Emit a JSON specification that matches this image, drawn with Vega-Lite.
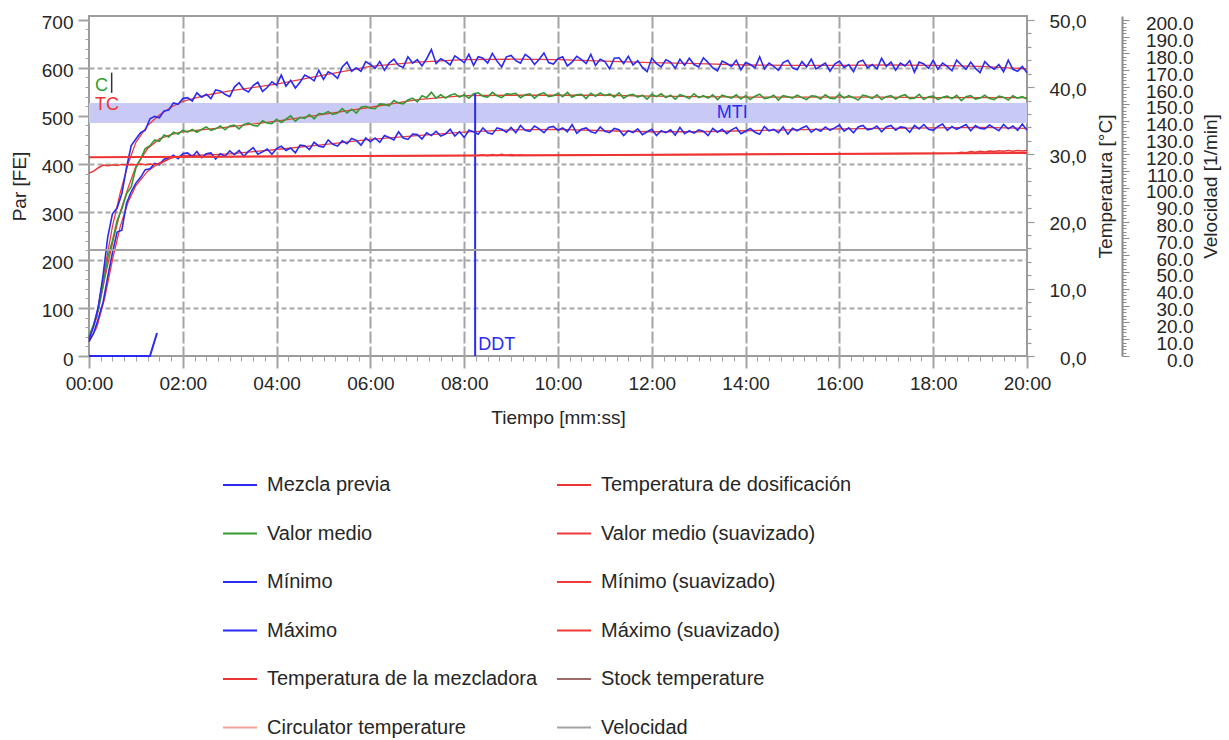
{
  "$schema": "https://vega.github.io/schema/vega-lite/v6.json",
  "width": 938,
  "height": 340,
  "autosize": {"type": "none"},
  "padding": {"left": 89, "top": 16, "right": 202, "bottom": 384},
  "background": "white",
  "config": {
    "font": "Liberation Sans",
    "view": {"stroke": "#9c9c9c", "strokeWidth": 2},
    "axis": {
      "domain": false,
      "labelFont": "Liberation Sans",
      "labelFontSize": 19,
      "labelColor": "#262626",
      "titleFont": "Liberation Sans",
      "titleFontSize": 19,
      "titleFontWeight": "normal",
      "titleColor": "#262626",
      "labelOverlap": false,
      "labelFlush": false,
      "labelBound": false
    },
    "text": {"font": "Liberation Sans"}
  },
  "datasets": {
    "par": [
      {"s":0,"max":35,"med":40,"min":30},{"s":6,"max":62,"med":66,"min":48},{"s":12,"max":104,"med":98,"min":78},
      {"s":18,"max":168,"med":148,"min":112},{"s":24,"max":248,"med":205,"min":165},{"s":30,"max":296,"med":240,"min":215},
      {"s":36,"max":308,"med":282,"min":258},{"s":42,"max":338,"med":306,"min":262},{"s":48,"max":392,"med":338,"min":318},
      {"s":54,"max":438,"med":352,"min":342},{"s":60,"max":452,"med":392,"min":360},{"s":66,"max":465,"med":410,"min":372},
      {"s":72,"max":470,"med":432,"min":388},{"s":78,"max":494,"med":438,"min":390},{"s":84,"max":499,"med":450,"min":401},
      {"s":90,"max":496,"med":447,"min":398},{"s":96,"max":510,"med":460,"min":410},{"s":102,"max":512,"med":456,"min":412},
      {"s":108,"max":527,"med":466,"min":418},{"s":114,"max":524,"med":462,"min":411},{"s":120,"max":536,"med":470,"min":421},
      {"s":126,"max":538,"med":466,"min":423},{"s":132,"max":531,"med":472,"min":415},{"s":138,"max":548,"med":466,"min":426},
      {"s":144,"max":539,"med":472,"min":413},{"s":150,"max":545,"med":477,"min":421},{"s":156,"max":536,"med":470,"min":423},
      {"s":162,"max":554,"med":473,"min":410},{"s":168,"max":552,"med":479,"min":421},{"s":174,"max":545,"med":471,"min":416},
      {"s":180,"max":540,"med":479,"min":427},{"s":186,"max":560,"med":481,"min":419},{"s":192,"max":569,"med":473,"min":428},
      {"s":198,"max":555,"med":482,"min":416},{"s":204,"max":550,"med":485,"min":426},{"s":210,"max":563,"med":480,"min":434},
      {"s":216,"max":570,"med":479,"min":420},{"s":222,"max":551,"med":490,"min":425},{"s":228,"max":559,"med":485,"min":431},
      {"s":234,"max":571,"med":484,"min":420},{"s":240,"max":564,"med":493,"min":432},{"s":246,"max":585,"med":486,"min":437},
      {"s":252,"max":562,"med":493,"min":428},{"s":258,"max":574,"med":500,"min":433},{"s":264,"max":558,"med":489,"min":423},
      {"s":270,"max":570,"med":497,"min":439},{"s":276,"max":585,"med":495,"min":438},{"s":282,"max":580,"med":503,"min":430},
      {"s":288,"max":573,"med":494,"min":445},{"s":294,"max":595,"med":505,"min":437},{"s":300,"max":576,"med":504,"min":435},
      {"s":306,"max":592,"med":509,"min":450},{"s":312,"max":587,"med":503,"min":441},{"s":318,"max":578,"med":506,"min":437},
      {"s":324,"max":602,"med":515,"min":448},{"s":330,"max":612,"med":506,"min":442},{"s":336,"max":593,"med":514,"min":453},
      {"s":342,"max":600,"med":506,"min":449},{"s":348,"max":593,"med":518,"min":439},{"s":354,"max":613,"med":520,"min":454},
      {"s":360,"max":607,"med":516,"min":446},{"s":366,"max":599,"med":515,"min":454},{"s":372,"max":613,"med":525,"min":445},
      {"s":378,"max":595,"med":524,"min":459},{"s":384,"max":610,"med":521,"min":455},{"s":390,"max":618,"med":532,"min":450},
      {"s":396,"max":605,"med":527,"min":467},{"s":402,"max":601,"med":525,"min":454},{"s":408,"max":623,"med":533,"min":451},
      {"s":414,"max":610,"med":537,"min":462},{"s":420,"max":617,"med":529,"min":461},{"s":426,"max":604,"med":542,"min":452},
      {"s":432,"max":619,"med":538,"min":465},{"s":438,"max":638,"med":549,"min":459},{"s":444,"max":609,"med":537,"min":468},
      {"s":450,"max":619,"med":544,"min":458},{"s":456,"max":614,"med":537,"min":462},{"s":462,"max":606,"med":543,"min":472},
      {"s":468,"max":625,"med":546,"min":458},{"s":474,"max":618,"med":539,"min":467},{"s":480,"max":611,"med":544,"min":455},
      {"s":486,"max":628,"med":537,"min":470},{"s":492,"max":605,"med":546,"min":467},{"s":498,"max":623,"med":548,"min":462},
      {"s":504,"max":620,"med":541,"min":475},{"s":510,"max":610,"med":539,"min":465},{"s":516,"max":630,"med":549,"min":462},
      {"s":522,"max":614,"med":542,"min":475},{"s":528,"max":602,"med":538,"min":472},{"s":534,"max":623,"med":546,"min":466},
      {"s":540,"max":626,"med":545,"min":476},{"s":546,"max":615,"med":547,"min":465},{"s":552,"max":610,"med":538,"min":480},
      {"s":558,"max":628,"med":544,"min":470},{"s":564,"max":621,"med":546,"min":468},{"s":570,"max":607,"med":537,"min":479},
      {"s":576,"max":618,"med":545,"min":473},{"s":582,"max":631,"med":548,"min":465},{"s":588,"max":611,"med":540,"min":476},
      {"s":594,"max":608,"med":542,"min":478},{"s":600,"max":619,"med":547,"min":470},{"s":606,"max":623,"med":540,"min":475},
      {"s":612,"max":604,"med":549,"min":467},{"s":618,"max":612,"med":539,"min":482},{"s":624,"max":624,"med":544,"min":464},
      {"s":630,"max":617,"med":545,"min":472},{"s":636,"max":609,"med":536,"min":475},{"s":642,"max":628,"med":547,"min":467},
      {"s":648,"max":605,"med":541,"min":464},{"s":654,"max":618,"med":548,"min":477},{"s":660,"max":613,"med":542,"min":468},
      {"s":666,"max":598,"med":546,"min":465},{"s":672,"max":620,"med":539,"min":474},{"s":678,"max":621,"med":548,"min":471},
      {"s":684,"max":609,"med":537,"min":459},{"s":690,"max":624,"med":543,"min":469},{"s":696,"max":606,"med":545,"min":465},
      {"s":702,"max":615,"med":539,"min":473},{"s":708,"max":601,"med":543,"min":461},{"s":714,"max":592,"med":535,"min":467},
      {"s":720,"max":620,"med":545,"min":472},{"s":726,"max":609,"med":540,"min":459},{"s":732,"max":602,"med":546,"min":469},
      {"s":738,"max":617,"med":538,"min":465},{"s":744,"max":612,"med":543,"min":471},{"s":750,"max":599,"med":535,"min":460},
      {"s":756,"max":618,"med":544,"min":476},{"s":762,"max":605,"med":541,"min":463},{"s":768,"max":620,"med":536,"min":469},
      {"s":774,"max":607,"med":546,"min":464},{"s":780,"max":602,"med":538,"min":471},{"s":786,"max":621,"med":542,"min":468},
      {"s":792,"max":611,"med":537,"min":459},{"s":798,"max":600,"med":544,"min":474},{"s":804,"max":594,"med":534,"min":466},
      {"s":810,"max":614,"med":543,"min":472},{"s":816,"max":609,"med":540,"min":463},{"s":822,"max":603,"med":537,"min":471},
      {"s":828,"max":616,"med":544,"min":476},{"s":834,"max":596,"med":535,"min":463},{"s":840,"max":611,"med":542,"min":468},
      {"s":846,"max":607,"med":534,"min":474},{"s":852,"max":600,"med":541,"min":466},{"s":858,"max":623,"med":545,"min":462},
      {"s":864,"max":598,"med":536,"min":478},{"s":870,"max":610,"med":538,"min":469},{"s":876,"max":603,"med":543,"min":472},
      {"s":882,"max":595,"med":533,"min":465},{"s":888,"max":611,"med":542,"min":477},{"s":894,"max":616,"med":540,"min":462},
      {"s":900,"max":600,"med":537,"min":474},{"s":906,"max":596,"med":543,"min":469},{"s":912,"max":613,"med":538,"min":475},
      {"s":918,"max":602,"med":534,"min":479},{"s":924,"max":618,"med":542,"min":466},{"s":930,"max":598,"med":541,"min":473},
      {"s":936,"max":604,"med":535,"min":468},{"s":942,"max":610,"med":544,"min":477},{"s":948,"max":593,"med":537,"min":470},
      {"s":954,"max":608,"med":536,"min":475},{"s":960,"max":614,"med":545,"min":481},{"s":966,"max":601,"med":537,"min":468},
      {"s":972,"max":607,"med":542,"min":475},{"s":978,"max":592,"med":538,"min":465},{"s":984,"max":612,"med":533,"min":477},
      {"s":990,"max":616,"med":543,"min":480},{"s":996,"max":600,"med":541,"min":471},{"s":1002,"max":607,"med":536,"min":473},
      {"s":1008,"max":598,"med":544,"min":479},{"s":1014,"max":620,"med":534,"min":467},{"s":1020,"max":603,"med":540,"min":477},
      {"s":1026,"max":612,"med":542,"min":480},{"s":1032,"max":595,"med":535,"min":470},{"s":1038,"max":610,"med":541,"min":477},
      {"s":1044,"max":604,"med":544,"min":476},{"s":1050,"max":615,"med":536,"min":466},{"s":1056,"max":591,"med":537,"min":480},
      {"s":1062,"max":612,"med":545,"min":473},{"s":1068,"max":608,"med":534,"min":482},{"s":1074,"max":599,"med":540,"min":472},
      {"s":1080,"max":616,"med":541,"min":470},{"s":1086,"max":597,"med":534,"min":478},{"s":1092,"max":610,"med":539,"min":483},
      {"s":1098,"max":603,"med":541,"min":470},{"s":1104,"max":594,"med":536,"min":478},{"s":1110,"max":616,"med":543,"min":472},
      {"s":1116,"max":606,"med":532,"min":477},{"s":1122,"max":597,"med":540,"min":482},{"s":1128,"max":612,"med":542,"min":469},
      {"s":1134,"max":599,"med":535,"min":480},{"s":1140,"max":590,"med":537,"min":474},{"s":1146,"max":613,"med":543,"min":473},
      {"s":1152,"max":603,"med":536,"min":481},{"s":1158,"max":597,"med":534,"min":475},{"s":1164,"max":607,"med":541,"min":469},
      {"s":1170,"max":592,"med":539,"min":482},{"s":1176,"max":616,"med":533,"min":473},{"s":1182,"max":597,"med":542,"min":479},
      {"s":1188,"max":593,"med":537,"min":470},{"s":1194,"max":603,"med":540,"min":483},{"s":1200,"max":590,"med":535,"min":470}
    ],
    "suave": [
      {"s":0,"max":35,"med":40,"min":30},{"s":10,"max":85,"med":80,"min":60},{"s":20,"max":180,"med":160,"min":120},
      {"s":30,"max":270,"med":235,"min":200},{"s":40,"max":340,"med":300,"min":270},{"s":50,"max":400,"med":350,"min":320},
      {"s":60,"max":445,"med":395,"min":355},{"s":75,"max":480,"med":432,"min":385},{"s":90,"max":502,"med":452,"min":402},
      {"s":105,"max":518,"med":461,"min":412},{"s":120,"max":530,"med":467,"min":417},{"s":150,"max":543,"med":472,"min":419},
      {"s":180,"max":552,"med":477,"min":421},{"s":240,"max":566,"med":489,"min":430},{"s":300,"max":585,"med":503,"min":440},
      {"s":360,"max":603,"med":518,"min":451},{"s":420,"max":612,"med":534,"min":459},{"s":480,"max":617,"med":542,"min":466},
      {"s":540,"max":618,"med":543,"min":471},{"s":600,"max":617,"med":543,"min":472},{"s":660,"max":614,"med":543,"min":469},
      {"s":720,"max":611,"med":541,"min":467},{"s":780,"max":609,"med":540,"min":467},{"s":840,"max":606,"med":539,"min":469},
      {"s":900,"max":605,"med":539,"min":471},{"s":960,"max":605,"med":539,"min":473},{"s":1020,"max":606,"med":539,"min":474},
      {"s":1080,"max":605,"med":538,"min":475},{"s":1140,"max":603,"med":538,"min":476},{"s":1200,"max":598,"med":538,"min":474}
    ],
    "mezcla": [
      {"s":0,"v":0},{"s":78,"v":0},{"s":87,"v":48}
    ],
    "dosif": [
      {"s":0,"t":29.55},{"s":1200,"t":30.2}
    ],
    "mezcladora": [
      {"s":0,"t":27.2},{"s":6,"t":27.5},{"s":12,"t":28.0},{"s":18,"t":28.4},{"s":24,"t":28.3},{"s":30,"t":28.45},
      {"s":36,"t":28.35},{"s":42,"t":28.5},{"s":48,"t":28.4},{"s":54,"t":28.5},{"s":60,"t":28.45},{"s":66,"t":28.55},
      {"s":72,"t":28.45},{"s":78,"t":28.55},{"s":84,"t":28.5},{"s":90,"t":28.6},{"s":96,"t":28.9},{"s":102,"t":29.3},
      {"s":108,"t":29.61},{"s":300,"t":29.71},{"s":498,"t":29.82},{"s":504,"t":29.95},{"s":510,"t":29.8},{"s":516,"t":29.98},
      {"s":522,"t":29.84},{"s":528,"t":30.0},{"s":534,"t":29.83},{"s":540,"t":29.97},{"s":546,"t":29.86},{"s":552,"t":29.95},
      {"s":558,"t":29.85},{"s":1110,"t":30.15},{"s":1116,"t":30.3},{"s":1122,"t":30.24},{"s":1128,"t":30.4},{"s":1134,"t":30.3},
      {"s":1140,"t":30.45},{"s":1146,"t":30.35},{"s":1152,"t":30.5},{"s":1158,"t":30.4},{"s":1164,"t":30.52},{"s":1170,"t":30.45},
      {"s":1176,"t":30.56},{"s":1182,"t":30.46},{"s":1188,"t":30.56},{"s":1194,"t":30.5},{"s":1200,"t":30.55}
    ],
    "velocidad": [
      {"s":0,"v":63},{"s":1200,"v":63}
    ]
  },
  "layer": [
    {
      "layer": [
        {
          "data": {"values": [{"s0":0,"s1":1200,"lo":485,"hi":527}]},
          "mark": {"type": "rect", "fill": "#c9c9f5"},
          "encoding": {
            "x": {
              "field": "s0", "type": "quantitative",
              "scale": {"domain": [0, 1200], "nice": false, "zero": false},
              "axis": {
                "values": [0,15,30,45,60,75,90,105,120,135,150,165,180,195,210,225,240,255,270,285,300,315,330,345,360,375,390,405,420,435,450,465,480,495,510,525,540,555,570,585,600,615,630,645,660,675,690,705,720,735,750,765,780,795,810,825,840,855,870,885,900,915,930,945,960,975,990,1005,1020,1035,1050,1065,1080,1095,1110,1125,1140,1155,1170,1185,1200],
                "tickCount": 500,
                "labelExpr": "datum.value % 120 === 0 ? ((datum.value < 600 ? '0' : '') + (datum.value / 60) + ':00') : ''",
                "labelOverlap": false,
                "tickSize": {"condition": {"test": "datum.value % 120 === 0", "value": 12}, "value": 5},
                "tickWidth": {"condition": {"test": "datum.value % 120 === 0", "value": 2}, "value": 1},
                "tickColor": "#a4a4a4",
                "grid": true,
                "gridColor": "#a4a4a4",
                "gridWidth": 2,
                "gridDash": [12, 3],
                "gridOpacity": {"condition": {"test": "datum.value % 120 === 0 && datum.value > 0 && datum.value < 1200", "value": 1}, "value": 0},
                "labelPadding": 6,
                "title": "Tiempo [mm:ss]",
                "titlePadding": 15
              }
            },
            "x2": {"field": "s1"},
            "y": {
              "field": "lo", "type": "quantitative",
              "scale": {"domain": [0, 708], "nice": false, "zero": true},
              "axis": {
                "values": [0,20,40,60,80,100,120,140,160,180,200,220,240,260,280,300,320,340,360,380,400,420,440,460,480,500,520,540,560,580,600,620,640,660,680,700],
                "tickCount": 500,
                "labelExpr": "datum.value % 100 === 0 ? '' + datum.value : ''",
                "labelOverlap": false,
                "tickSize": {"condition": {"test": "datum.value % 100 === 0", "value": 11}, "value": 4},
                "tickWidth": {"condition": {"test": "datum.value % 100 === 0", "value": 2}, "value": 1},
                "tickColor": "#a4a4a4",
                "grid": true,
                "gridColor": "#a8a8a8",
                "gridWidth": 2,
                "gridDash": [5, 3],
                "gridOpacity": {"condition": {"test": "datum.value % 100 === 0 && datum.value > 0 && datum.value < 700", "value": 1}, "value": 0},
                "labelPadding": 5,
                "labelOffset": 3,
                "title": "Par [FE]",
                "titlePadding": 12
              }
            },
            "y2": {"field": "hi"}
          }
        },
        {
          "mark": {"type": "rule", "color": "#33aa33", "strokeWidth": 2},
          "encoding": {"y": {"datum": 546, "type": "quantitative"}}
        },
        {
          "mark": {"type": "rule", "color": "#ee3333", "strokeWidth": 2},
          "encoding": {"y": {"datum": 500, "type": "quantitative"}}
        },
        {
          "data": {"name": "suave"},
          "mark": {"type": "line", "strokeWidth": 1.3},
          "encoding": {
            "x": {"field": "s", "type": "quantitative"},
            "y": {"field": "max", "type": "quantitative"},
            "color": {
              "datum": "Máximo (suavizado)",
              "scale": {
                "domain": ["Mezcla previa", "Valor medio", "Mínimo", "Máximo", "Temperatura de la mezcladora", "Circulator temperature", "Temperatura de dosificación", "Valor medio (suavizado)", "Mínimo (suavizado)", "Máximo (suavizado)", "Stock temperature", "Velocidad"],
                "range": ["#2b2bef", "#339933", "#2b2bef", "#2b2bef", "#ef3434", "#f2a39b", "#ef3434", "#ef3b3b", "#ef3b3b", "#ef3b3b", "#9e6a6a", "#a3a3a3"]
              },
              "legend": {
                "title": null,
                "orient": "none",
                "legendX": 133,
                "legendY": 451,
                "columns": 2,
                "columnPadding": 15,
                "rowPadding": 20.5,
                "symbolType": "stroke",
                "symbolSize": 1156,
                "symbolStrokeWidth": 2,
                "labelFont": "Liberation Sans",
                "labelFontSize": 20,
                "labelColor": "#262626",
                "labelOffset": 9,
                "labelLimit": 500
              }
            }
          }
        },
        {
          "data": {"name": "suave"},
          "mark": {"type": "line", "strokeWidth": 1.3},
          "encoding": {
            "x": {"field": "s", "type": "quantitative"},
            "y": {"field": "med", "type": "quantitative"},
            "color": {"datum": "Valor medio (suavizado)"}
          }
        },
        {
          "data": {"name": "suave"},
          "mark": {"type": "line", "strokeWidth": 1.3},
          "encoding": {
            "x": {"field": "s", "type": "quantitative"},
            "y": {"field": "min", "type": "quantitative"},
            "color": {"datum": "Mínimo (suavizado)"}
          }
        },
        {
          "data": {"name": "par"},
          "mark": {"type": "line", "strokeWidth": 1.6},
          "encoding": {
            "x": {"field": "s", "type": "quantitative"},
            "y": {"field": "med", "type": "quantitative"},
            "color": {"datum": "Valor medio"}
          }
        },
        {
          "data": {"name": "par"},
          "mark": {"type": "line", "strokeWidth": 1.6},
          "encoding": {
            "x": {"field": "s", "type": "quantitative"},
            "y": {"field": "min", "type": "quantitative"},
            "color": {"datum": "Mínimo"}
          }
        },
        {
          "data": {"name": "par"},
          "mark": {"type": "line", "strokeWidth": 1.6},
          "encoding": {
            "x": {"field": "s", "type": "quantitative"},
            "y": {"field": "max", "type": "quantitative"},
            "color": {"datum": "Máximo"}
          }
        },
        {
          "data": {"name": "mezcla"},
          "mark": {"type": "line", "strokeWidth": 2},
          "encoding": {
            "x": {"field": "s", "type": "quantitative"},
            "y": {"field": "v", "type": "quantitative"},
            "color": {"datum": "Mezcla previa"}
          }
        },
        {
          "data": {"values": [{"s":494,"lo":0,"hi":546}]},
          "mark": {"type": "rule", "color": "#2b2bef", "strokeWidth": 2},
          "encoding": {
            "x": {"field": "s", "type": "quantitative"},
            "y": {"field": "lo", "type": "quantitative"},
            "y2": {"field": "hi"}
          }
        },
        {
          "data": {"values": [{"s":29,"lo":548,"hi":590}]},
          "mark": {"type": "rule", "color": "#333333", "strokeWidth": 1.5},
          "encoding": {
            "x": {"field": "s", "type": "quantitative"},
            "y": {"field": "lo", "type": "quantitative"},
            "y2": {"field": "hi"}
          }
        },
        {
          "data": {"values": [{"s":0,"v":546,"txt":"C"}]},
          "mark": {"type": "text", "color": "#2f9f2f", "fontSize": 18, "align": "left", "baseline": "alphabetic", "dx": 6, "dy": -3},
          "encoding": {
            "x": {"field": "s", "type": "quantitative"},
            "y": {"field": "v", "type": "quantitative"},
            "text": {"field": "txt"}
          }
        },
        {
          "data": {"values": [{"s":0,"v":500,"txt":"TC"}]},
          "mark": {"type": "text", "color": "#ee3333", "fontSize": 18, "align": "left", "baseline": "alphabetic", "dx": 6, "dy": -6},
          "encoding": {
            "x": {"field": "s", "type": "quantitative"},
            "y": {"field": "v", "type": "quantitative"},
            "text": {"field": "txt"}
          }
        },
        {
          "data": {"values": [{"s":823,"v":500,"txt":"MTI"}]},
          "mark": {"type": "text", "color": "#2b2bef", "fontSize": 18, "align": "center", "baseline": "alphabetic", "dy": 2},
          "encoding": {
            "x": {"field": "s", "type": "quantitative"},
            "y": {"field": "v", "type": "quantitative"},
            "text": {"field": "txt"}
          }
        },
        {
          "data": {"values": [{"s":494,"v":0,"txt":"DDT"}]},
          "mark": {"type": "text", "color": "#2b2bef", "fontSize": 18, "align": "left", "baseline": "alphabetic", "dx": 3, "dy": -6},
          "encoding": {
            "x": {"field": "s", "type": "quantitative"},
            "y": {"field": "v", "type": "quantitative"},
            "text": {"field": "txt"}
          }
        }
      ]
    },
    {
      "layer": [
        {
          "data": {"name": "dosif"},
          "mark": {"type": "line", "strokeWidth": 2},
          "encoding": {
            "x": {"field": "s", "type": "quantitative"},
            "y": {
              "field": "t", "type": "quantitative",
              "scale": {"domain": [0, 50.571], "nice": false, "zero": true},
              "axis": {
                "orient": "right",
                "values": [0,2,4,6,8,10,12,14,16,18,20,22,24,26,28,30,32,34,36,38,40,42,44,46,48,50],
                "tickCount": 500,
                "labelExpr": "datum.value % 10 === 0 ? replace(format(datum.value, '.1f'), '.', ',') : ''",
                "labelOverlap": false,
                "tickSize": {"condition": {"test": "datum.value % 10 === 0", "value": 7}, "value": 4},
                "tickWidth": 1.2,
                "tickColor": "#9a9a9a",
                "grid": false,
                "labelAlign": "right",
                "labelPadding": 52,
                "labelOffset": 2,
                "title": "Temperatura [°C]",
                "titleAngle": 270,
                "titleBaseline": "top",
                "titlePadding": 10
              }
            },
            "color": {"datum": "Temperatura de dosificación"}
          }
        },
        {
          "data": {"name": "mezcladora"},
          "mark": {"type": "line", "strokeWidth": 1.5},
          "encoding": {
            "x": {"field": "s", "type": "quantitative"},
            "y": {"field": "t", "type": "quantitative"},
            "color": {"datum": "Temperatura de la mezcladora"}
          }
        }
      ]
    },
    {
      "layer": [
        {
          "data": {"name": "velocidad"},
          "mark": {"type": "line", "strokeWidth": 2},
          "encoding": {
            "x": {"field": "s", "type": "quantitative"},
            "y": {
              "field": "v", "type": "quantitative",
              "scale": {"domain": [0, 202.286], "nice": false, "zero": true},
              "axis": {
                "orient": "right",
                "offset": 95,
                "domain": true,
                "domainColor": "#8c8c8c",
                "domainWidth": 2,
                "values": [0,2,4,6,8,10,12,14,16,18,20,22,24,26,28,30,32,34,36,38,40,42,44,46,48,50,52,54,56,58,60,62,64,66,68,70,72,74,76,78,80,82,84,86,88,90,92,94,96,98,100,102,104,106,108,110,112,114,116,118,120,122,124,126,128,130,132,134,136,138,140,142,144,146,148,150,152,154,156,158,160,162,164,166,168,170,172,174,176,178,180,182,184,186,188,190,192,194,196,198,200],
                "tickCount": 500,
                "labelExpr": "datum.value % 10 === 0 ? format(datum.value, '.1f') : ''",
                "labelOverlap": false,
                "tickSize": {"condition": {"test": "datum.value % 10 === 0", "value": 7}, "value": 4},
                "tickWidth": 1,
                "tickColor": "#8c8c8c",
                "grid": false,
                "labelAlign": "right",
                "labelPadding": 64,
                "labelOffset": 4,
                "title": "Velocidad [1/min]",
                "titleAngle": 270,
                "titleBaseline": "top",
                "titlePadding": 8
              }
            },
            "color": {"datum": "Velocidad"}
          }
        }
      ]
    }
  ],
  "resolve": {"scale": {"y": "independent"}}
}
